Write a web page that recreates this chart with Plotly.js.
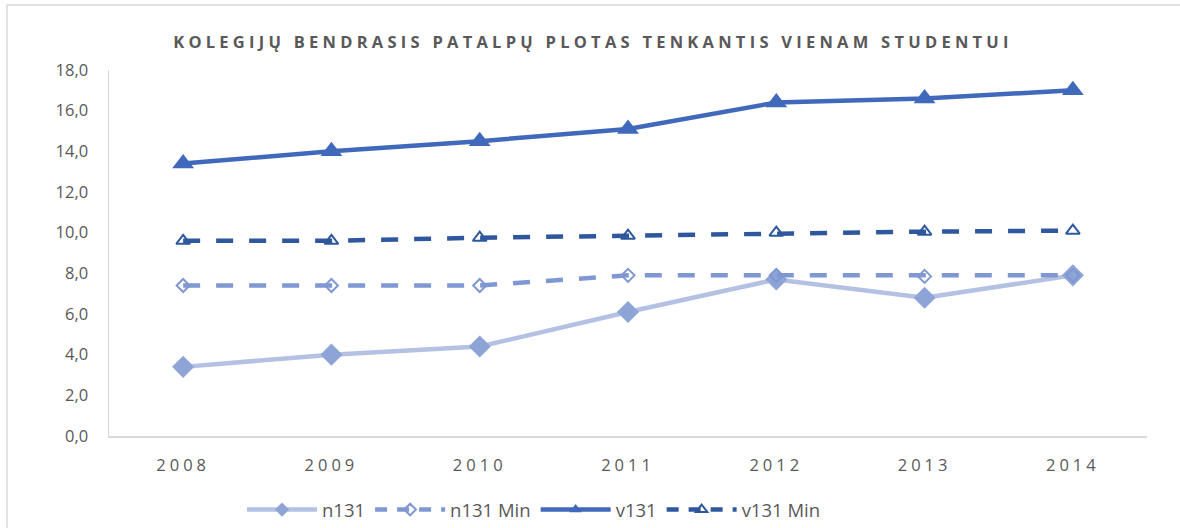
<!DOCTYPE html>
<html>
<head>
<meta charset="utf-8">
<script src="https://cdn.plot.ly/plotly-3.0.1.min.js"></script>
<style>
  html, body { margin: 0; padding: 0; background: #fff; }
  #chart { width: 1180px; height: 528px; }
  .gtitle { letter-spacing: 4.25px; }
  .xtick text { letter-spacing: 4px; }
</style>
</head>
<body>
<div id="chart"></div>
<script>
const years = ['2008', '2009', '2010', '2011', '2012', '2013', '2014'];
const n131 = [3.4, 4.0, 4.4, 6.1, 7.7, 6.8, 7.9];
const n131Min = [7.4, 7.4, 7.4, 7.9, 7.9, 7.85, 7.9];
const v131 = [13.4, 14.0, 14.5, 15.1, 16.4, 16.6, 17.0];
const v131Min = [9.6, 9.6, 9.75, 9.85, 10.0, 10.05, 10.1];
const seriesNames = ['n131', 'n131 Min', 'v131', 'v131 Min'];
const yTicks = [0, 2, 4, 6, 8, 10, 12, 14, 16, 18];

const styles = [
  { line: { color: '#b4c1e3', width: 4.5 }, sym: 'diamond', size: 17, lsize: 11, mcolor: '#8fa4d6', open: false },
  { line: { color: '#7f97d2', width: 4.5, dash: '17px,16px' }, sym: 'diamond-open', size: 10, lsize: 9, mcolor: '#7f97d2', open: true },
  { line: { color: '#4169bb', width: 4.5 }, sym: 'triangle-up', size: 19, lsize: 11, mcolor: '#4169bb', open: false },
  { line: { color: '#2e579e', width: 4.5, dash: '17px,16px' }, sym: 'triangle-up-open', size: 12, lsize: 10, mcolor: '#2e579e', open: true }
];
const dataSets = [n131, n131Min, v131, v131Min];

const traces = [];
dataSets.forEach((ys, i) => {
  const s = styles[i];
  traces.push({
    x: years, y: ys, name: seriesNames[i], type: 'scatter', mode: 'lines+markers',
    showlegend: false,
    line: s.line,
    marker: { symbol: s.sym, size: s.size, color: s.mcolor, line: { width: s.open ? 2 : 0, color: s.mcolor } }
  });
});
dataSets.forEach((ys, i) => {
  const s = styles[i];
  traces.push({
    x: [null], y: [null], name: seriesNames[i], type: 'scatter', mode: 'lines+markers',
    showlegend: true,
    line: Object.assign({}, s.line, s.line.dash ? { dash: '12px,10px' } : {}),
    marker: { symbol: s.sym, size: s.lsize, color: s.mcolor, line: { width: s.open ? 2 : 0, color: s.mcolor } }
  });
});

const layout = {
  width: 1180, height: 528,
  margin: { l: 109, r: 33, t: 70, b: 92 },
  paper_bgcolor: '#ffffff', plot_bgcolor: '#ffffff',
  separators: ',.',
  font: { family: '"Open Sans", sans-serif', color: '#595959' },
  title: {
    text: '<b>KOLEGIJŲ BENDRASIS PATALPŲ PLOTAS TENKANTIS VIENAM STUDENTUI</b>',
    font: { family: '"Open Sans", sans-serif', size: 16.5, color: '#595959' },
    x: 593 / 1180, xanchor: 'center', xref: 'container', y: 1 - 42 / 528, yref: 'container', yanchor: 'middle'
  },
  xaxis: {
    type: 'category', range: [-0.5, 6.5], autorange: false, automargin: false,
    showgrid: false, zeroline: false,
    showline: true, linecolor: '#d9d9d9', linewidth: 1.5,
    ticks: '', ticklabelstandoff: 14,
    tickfont: { family: '"Open Sans", sans-serif', size: 16.5, color: '#595959' },
    fixedrange: true
  },
  yaxis: {
    range: [0, 18], autorange: false, automargin: false,
    tickvals: yTicks, tickformat: '.1f',
    showgrid: false, zeroline: false,
    showline: true, linecolor: '#d9d9d9', linewidth: 1.5,
    ticks: '', ticklabelstandoff: 16,
    tickfont: { family: '"Open Sans", sans-serif', size: 16.5, color: '#595959' },
    fixedrange: true
  },
  legend: {
    orientation: 'h', x: 242 / 1180, xref: 'container', xanchor: 'left',
    y: 18 / 528, yref: 'container', yanchor: 'middle',
    font: { family: '"Open Sans", sans-serif', size: 18.5, color: '#595959' },
    itemwidth: 70, bgcolor: 'rgba(0,0,0,0)'
  },
  shapes: [{
    type: 'rect', xref: 'paper', yref: 'paper',
    x0: -0.0983, x1: 1.2, y0: -0.4, y1: 1.1776,
    line: { color: '#d9d9d9', width: 1.5 }, fillcolor: 'rgba(0,0,0,0)', layer: 'below'
  }],
  showlegend: true
};

Plotly.newPlot('chart', traces, layout, { displayModeBar: false, staticPlot: true });
</script>
</body>
</html>
